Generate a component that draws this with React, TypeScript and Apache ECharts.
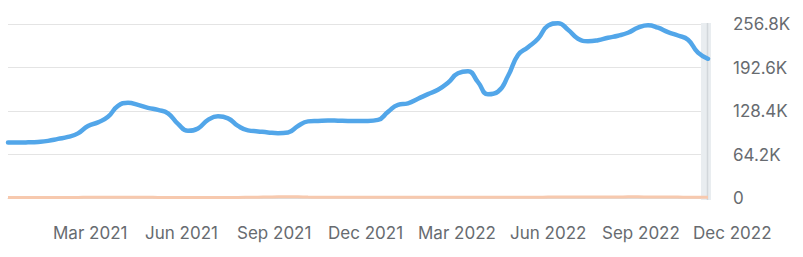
import React, { useEffect, useRef } from "react";
import * as echarts from "echarts";

const dates = [
  "2021-01-15", "2021-01-25", "2021-02-04", "2021-02-14", "2021-02-24", "2021-03-06", "2021-03-16", "2021-03-26", "2021-04-05", "2021-04-15",
  "2021-04-25", "2021-05-05", "2021-05-15", "2021-05-25", "2021-06-04", "2021-06-14", "2021-06-24", "2021-07-04", "2021-07-14", "2021-07-24",
  "2021-08-03", "2021-08-13", "2021-08-23", "2021-09-02", "2021-09-12", "2021-09-22", "2021-10-02", "2021-10-12", "2021-10-22", "2021-11-01",
  "2021-11-11", "2021-11-21", "2021-12-01", "2021-12-11", "2021-12-21", "2021-12-31", "2022-01-10", "2022-01-20", "2022-01-30", "2022-02-09",
  "2022-02-19", "2022-03-01", "2022-03-11", "2022-03-21", "2022-03-31", "2022-04-10", "2022-04-20", "2022-04-30", "2022-05-10", "2022-05-20",
  "2022-05-30", "2022-06-09", "2022-06-19", "2022-06-29", "2022-07-09", "2022-07-19", "2022-07-29", "2022-08-08", "2022-08-18", "2022-08-28",
  "2022-09-07", "2022-09-17", "2022-09-27", "2022-10-07", "2022-10-17", "2022-10-27", "2022-11-06", "2022-11-16", "2022-11-26", "2022-12-06",
  "2022-12-16",
];

// Organic traffic, in thousands
const organicK = [
  81.8, 81.8, 82.1, 82.8, 84.3, 87.2, 90.2, 95.4, 106.4, 111.6,
  119.8, 136.0, 140.4, 137.5, 133.1, 130.1, 125.0, 109.4, 99.1, 102.7,
  115.3, 120.5, 117.6, 106.4, 99.8, 98.3, 96.8, 95.7, 96.8, 106.4,
  113.1, 113.8, 114.3, 114.1, 113.8, 113.8, 113.8, 115.3, 127.1, 137.5,
  139.7, 146.4, 153.3, 159.7, 170.0, 184.0, 187.0, 171.0, 153.0, 157.0,
  180.0, 211.0, 222.5, 235.1, 254.3, 258.0, 248.4, 235.1, 231.4, 232.9,
  236.5, 239.5, 243.9, 251.3, 255.0, 251.3, 244.7, 239.8, 233.6, 214.4,
  205.5,
];

// Paid traffic, in thousands
const paidK = [
  0.6, 0.6, 0.7, 0.7, 0.8, 0.8, 0.9, 0.9, 1.0, 1.0,
  1.0, 1.1, 1.1, 1.0, 1.0, 0.9, 0.9, 0.9, 0.8, 0.8,
  0.8, 0.8, 0.9, 0.9, 1.0, 1.2, 1.5, 1.8, 1.9, 1.7,
  1.4, 1.2, 1.1, 1.0, 1.0, 1.0, 1.0, 1.0, 1.1, 1.1,
  1.1, 1.2, 1.2, 1.2, 1.1, 1.1, 1.0, 1.0, 1.0, 1.0,
  1.1, 1.1, 1.2, 1.2, 1.3, 1.3, 1.3, 1.4, 1.4, 1.5,
  1.6, 1.6, 1.7, 1.7, 1.6, 1.5, 1.4, 1.3, 1.2, 1.1,
  1.0,
];

const yMaxK = 256.8;
const yStepK = 64.2;

const xLabelDates = [
  "2021-03-01", "2021-06-01", "2021-09-01", "2021-12-01",
  "2022-03-01", "2022-06-01", "2022-09-01", "2022-12-01",
];
const monthNames = ["Jan", "Feb", "Mar", "Apr", "May", "Jun", "Jul", "Aug", "Sep", "Oct", "Nov", "Dec"];

const DAY = 86400000;
const toUtc = (s: string) => {
  const [y, m, d] = s.split("-").map(Number);
  return Date.UTC(y, m - 1, d);
};
const origin = toUtc(dates[0]);
const toDay = (s: string) => Math.round((toUtc(s) - origin) / DAY);

const TEXT = "#676b70";
const FONT = "Inter";

export default function App() {
  const ref = useRef<HTMLDivElement>(null);
  useEffect(() => {
    document.body.style.margin = "0";
    const chart = echarts.init(ref.current!, null, { renderer: "svg" });
    const lastDay = toDay(dates[dates.length - 1]);
    chart.setOption({
      animation: false,
      grid: { left: 8, right: 95, top: 24, bottom: 59 },
      xAxis: {
        type: "value",
        min: 0,
        max: lastDay,
        axisLine: { show: true, onZero: false, lineStyle: { color: "#dcdcdc", width: 1 } },
        axisTick: { show: false },
        splitLine: { show: false },
        axisLabel: {
          customValues: xLabelDates.map(toDay),
          formatter: (v: number) => {
            const d = new Date(origin + v * DAY + DAY / 2);
            return monthNames[d.getUTCMonth()] + " " + d.getUTCFullYear();
          },
          align: "left",
          margin: 26,
          color: TEXT,
          fontSize: 17,
          fontFamily: FONT,
        },
      },
      yAxis: {
        type: "value",
        position: "right",
        min: 0,
        max: yMaxK * 1000,
        interval: yStepK * 1000,
        axisLine: { show: false },
        axisTick: { show: false },
        splitLine: { show: true, lineStyle: { color: "#e4e4e4", width: 1 } },
        axisLabel: {
          margin: 25,
          color: TEXT,
          fontSize: 17,
          fontFamily: FONT,
          formatter: (v: number) => (v === 0 ? "0" : (v / 1000).toFixed(1) + "K"),
        },
      },
      series: [
        {
          type: "line",
          name: "Paid",
          data: dates.map((d, i) => [toDay(d), paidK[i] * 1000]),
          showSymbol: false,
          smooth: true,
          clip: false,
          z: 3,
          lineStyle: { color: "#f7c9ae", width: 3 },
        },
        {
          type: "line",
          name: "Organic",
          data: dates.map((d, i) => [toDay(d), organicK[i] * 1000]),
          showSymbol: false,
          smooth: true,
          clip: false,
          z: 4,
          lineStyle: { color: "#52a6e9", width: 4.5, cap: "round" },
        },
      ],
    });
    const px = chart.convertToPixel({ xAxisIndex: 0 }, lastDay) as number;
    const top = chart.convertToPixel({ yAxisIndex: 0 }, yMaxK * 1000) as number;
    const bottom = chart.convertToPixel({ yAxisIndex: 0 }, 0) as number;
    chart.setOption({
      graphic: [
        {
          type: "rect",
          z: 1,
          shape: { x: px - 7, y: top - 1, width: 10, height: bottom - top + 3 },
          style: { fill: "#e9edf0" },
        },
        {
          type: "line",
          z: 1,
          shape: { x1: px - 0.5, y1: top - 1, x2: px - 0.5, y2: bottom + 2 },
          style: { stroke: "#d2d7db", lineWidth: 1.5 },
        },
      ],
    });
    return () => chart.dispose();
  }, []);
  return <div ref={ref} style={{ width: 803, height: 257 }} />;
}
